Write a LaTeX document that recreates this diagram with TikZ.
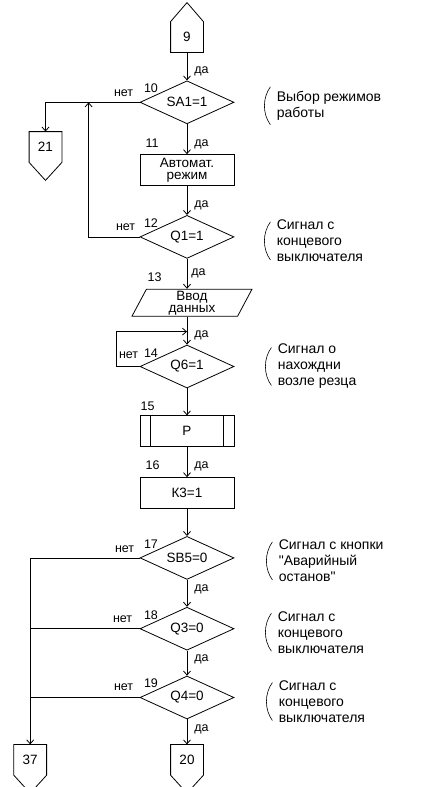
\documentclass[tikz,border=0pt]{standalone}
\usepackage{fontspec}
\setmainfont{Liberation Sans}[Ligatures=TeXOff]
\usetikzlibrary{arrows.meta,positioning,shapes.geometric,calc}

\begin{document}
\begin{tikzpicture}[x=1pt,y=1pt,line width=0.8pt,font=\fontsize{13.5}{12}\selectfont]
    \tikzset{
      offpage/.style={rectangle,minimum width=32pt,minimum height=30pt,inner sep=0pt},
      decision/.style={diamond,draw,aspect=2.2,minimum width=94pt,minimum height=43pt,inner sep=0pt},
      action/.style={rectangle,draw,minimum width=94pt,minimum height=31pt,inner sep=0pt,align=center},
      subproc/.style={action,path picture={
          \draw ([xshift=10pt]path picture bounding box.north west) -- ([xshift=10pt]path picture bounding box.south west);
          \draw ([xshift=-11pt]path picture bounding box.north east) -- ([xshift=-11pt]path picture bounding box.south east);}},
      inout/.style={trapezium,trapezium left angle=59,trapezium right angle=121,trapezium stretches body,draw,minimum width=120pt,minimum height=27pt,inner sep=0pt,align=center},
      note/.style={anchor=west,inner sep=0pt,align=left,font=\fontsize{14}{16}\selectfont},
      tag/.style={inner sep=0pt,font=\fontsize{12.5}{12}\selectfont},
      flow/.style={-{Straight Barb[length=4pt,width=7pt]}},
      brace/.style={line width=0.6pt}
    }
    \useasboundingbox (0,0) rectangle (421,-787);
    % main column
    \node[offpage] (c9) at (187,-37) {9};
    \node[decision,below=28pt of c9] (d10) {SA1=1};
    \node[action,below=30pt of d10] (b11) {Автомат.\\режим};
    \node[decision,below=29pt of b11] (d12) {Q1=1};
    \node[inout,below=30pt of d12,xshift=5pt] (p13) {Ввод\\данных};
    \node[decision,below=28pt of p13,xshift=-5pt] (d14) {Q6=1};
    \node[subproc,below=27pt of d14] (b15) {P};
    \node[action,below=30pt of b15] (b16) {К3=1};
    \node[decision,below=27pt of b16] (d17) {SB5=0};
    \node[decision,below=27pt of d17] (d18) {Q3=0};
    \node[decision,below=25pt of d18] (d19) {Q4=0};
    \node[offpage,below=25pt of d19] (c20) {20};
    \node[offpage,left=124pt of c20] (c37) {37};
    \node[offpage] (c21) at (45.5,-147) {21};
    % connector outlines
    \draw (c9.south west) -- (c9.north west) -- ([yshift=19pt]c9.north) -- (c9.north east) -- (c9.south east) -- cycle;
    \foreach \n in {c21,c20,c37}
      \draw (\n.north west) -- (\n.north east) -- (\n.south east) -- ([yshift=-18pt]\n.south) -- (\n.south west) -- cycle;
    % comments on the right
    \node[note,right=42pt of d10,yshift=-3.5pt] (t10) {Выбор режимов\\работы};
    \node[note,right=42pt of d12,yshift=-4pt] (t12) {Сигнал с\\концевого\\выключателя};
    \node[note,right=43pt of d14] (t14) {Сигнал о\\нахождни\\возле резца};
    \node[note,right=44pt of d17,yshift=-3pt] (t17) {Сигнал с кнопки\\"Аварийный\\останов"};
    \node[note,right=43pt of d18,yshift=-3.5pt] (t18) {Сигнал с\\концевого\\выключателя};
    \node[note,right=44pt of d19,yshift=-4pt] (t19) {Сигнал с\\концевого\\выключателя};
    \foreach \t in {t10,t12,t14,t17,t18,t19}
      \draw[brace] ([shift={(-6pt,19pt)}]\t.west) .. controls ([shift={(-14pt,8pt)}]\t.west) and ([shift={(-14pt,-8pt)}]\t.west) .. ([shift={(-6pt,-19pt)}]\t.west);
    % numbers and "нет"
    \foreach \d/\k in {d10/10,d12/12,d14/14,d17/17,d18/18,d19/19}
      \node[tag,above right=9pt and 4pt of \d.west] (n\k) {\k};
    \foreach \d/\a/\b in {d10/5/6,d12/6/4,d14/7/1,d17/5/5,d18/6/7,d19/6/6}
      \node[tag,above left=\a pt and \b pt of \d.west] (no\d) {нет};
    \node[tag,above left=6pt and 28pt of b11.north] (n11) {11};
    \node[tag,above left=7pt and 30pt of p13.north] (n13) {13};
    \node[tag,above left=4pt and 32pt of b15.north] (n15) {15};
    \node[tag,above left=7pt and 27pt of b16.north] (n16) {16};
    % flow lines
    \draw[flow] (c9) -- node[tag,right=7pt,pos=0.68] {да} (d10);
    \draw[flow] (d10) -- node[tag,right=7pt,pos=0.67] {да} (b11);
    \draw[flow] (b11) -- node[tag,right=7pt,pos=0.66] {да} (d12);
    \draw[flow] (d12) -- node[tag,right=4pt,pos=0.47] {да} (d12.south |- p13.north);
    \draw[flow] (p13.south -| d14.north) -- node[tag,right=7pt,pos=0.68] {да} (d14);
    \draw[flow] (d14) -- (b15);
    \draw[flow] (b15) -- node[tag,right=7pt,pos=0.63] {да} (b16);
    \draw[flow] (b16) -- (d17);
    \draw[flow] (d17) -- node[tag,right=7pt,pos=0.37] {да} (d18);
    \draw[flow] (d18) -- node[tag,right=7pt,pos=0.36] {да} (d19);
    \draw[flow] (d19) -- node[tag,right=7pt,pos=0.4] {да} (c20);
    % side branches
    \draw[flow] (d10.west) -| (c21.north);
    \coordinate (j10) at ([xshift=-51pt]d10.west);
    \draw[flow] (d12.west) -| (j10);
    \coordinate (j14) at ([yshift=13pt]d14.north);
    \draw[flow] (d14.west) -- ++(-23pt,0) |- (j14);
    \draw[flow] (d17.west) -| (c37.north);
    \draw (d18.west) -- (d18.west -| c37.north);
    \draw (d19.west) -- (d19.west -| c37.north);
\end{tikzpicture}
\end{document}
